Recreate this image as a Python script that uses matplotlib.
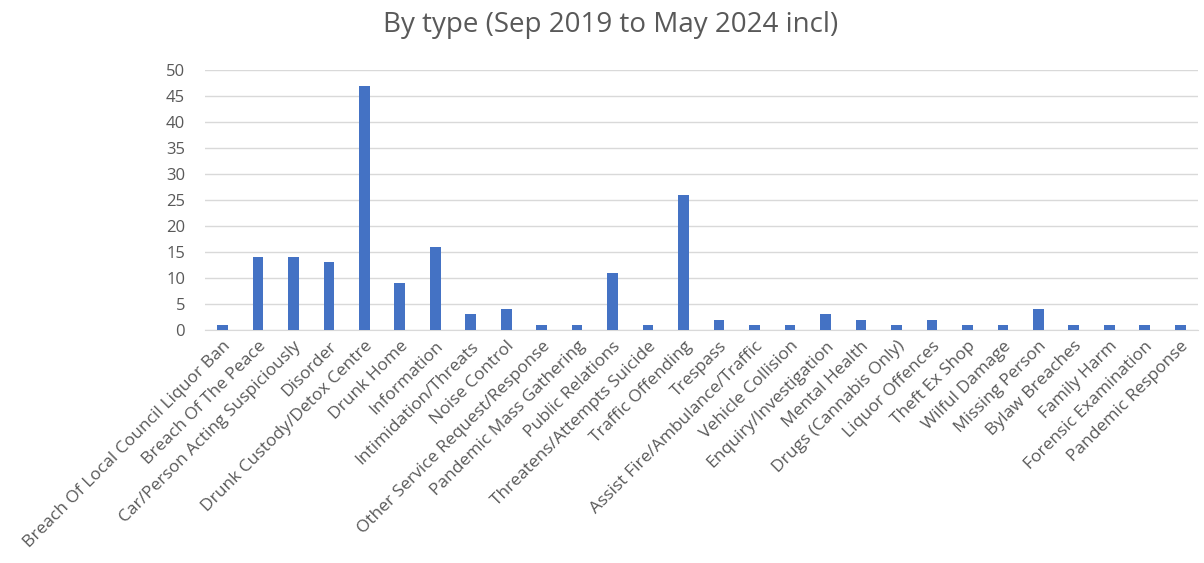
import matplotlib
matplotlib.use("Agg")
import matplotlib.pyplot as plt
import numpy as np

categories = [
    "Breach Of Local Council Liquor Ban", "Breach Of The Peace",
    "Car/Person Acting Suspiciously", "Disorder", "Drunk Custody/Detox Centre",
    "Drunk Home", "Information", "Intimidation/Threats", "Noise Control",
    "Other Service Request/Response", "Pandemic Mass Gathering",
    "Public Relations", "Threatens/Attempts Suicide", "Traffic Offending",
    "Trespass", "Assist Fire/Ambulance/Traffic", "Vehicle Collision",
    "Enquiry/Investigation", "Mental Health", "Drugs (Cannabis Only)",
    "Liquor Offences", "Theft Ex Shop", "Wilful Damage", "Missing Person",
    "Bylaw Breaches", "Family Harm", "Forensic Examination", "Pandemic Response",
]
counts = [1, 14, 14, 13, 47, 9, 16, 3, 4, 1, 1, 11, 1, 26,
          2, 1, 1, 3, 2, 1, 2, 1, 1, 4, 1, 1, 1, 1]
yticks = list(range(0, 55, 5))

plt.rcParams["font.family"] = ["Open Sans", "DejaVu Sans"]
grey = "#595959"

fig = plt.figure(figsize=(12.04, 5.63), dpi=100)
ax = fig.add_axes([0.170, 0.414, 0.825, 0.461])

x = np.arange(len(categories))
ax.bar(x, counts, width=0.3, color="#4472C4", zorder=3)

ax.set_xlim(-0.5, len(categories) - 0.5)
ax.set_ylim(0, 50)
ax.set_yticks(yticks)
ax.set_yticklabels([str(v) for v in yticks], color=grey, fontsize=12)
ax.set_xticks(x)
ax.set_xticklabels(categories, rotation=45, ha="right", rotation_mode="anchor",
                   color=grey, fontsize=12.5)
ax.tick_params(axis="both", length=0)
ax.tick_params(axis="y", pad=14)
ax.tick_params(axis="x", pad=6)

ax.grid(axis="y", color="#D9D9D9", linewidth=1, zorder=0)
for side in ["top", "right", "left"]:
    ax.spines[side].set_visible(False)
ax.spines["bottom"].set_color("#D9D9D9")

fig.suptitle("By type (Sep 2019 to May 2024 incl)", x=0.507, y=0.98,
             color=grey, fontsize=20)

plt.savefig("out.png", dpi=100)
plt.close()
